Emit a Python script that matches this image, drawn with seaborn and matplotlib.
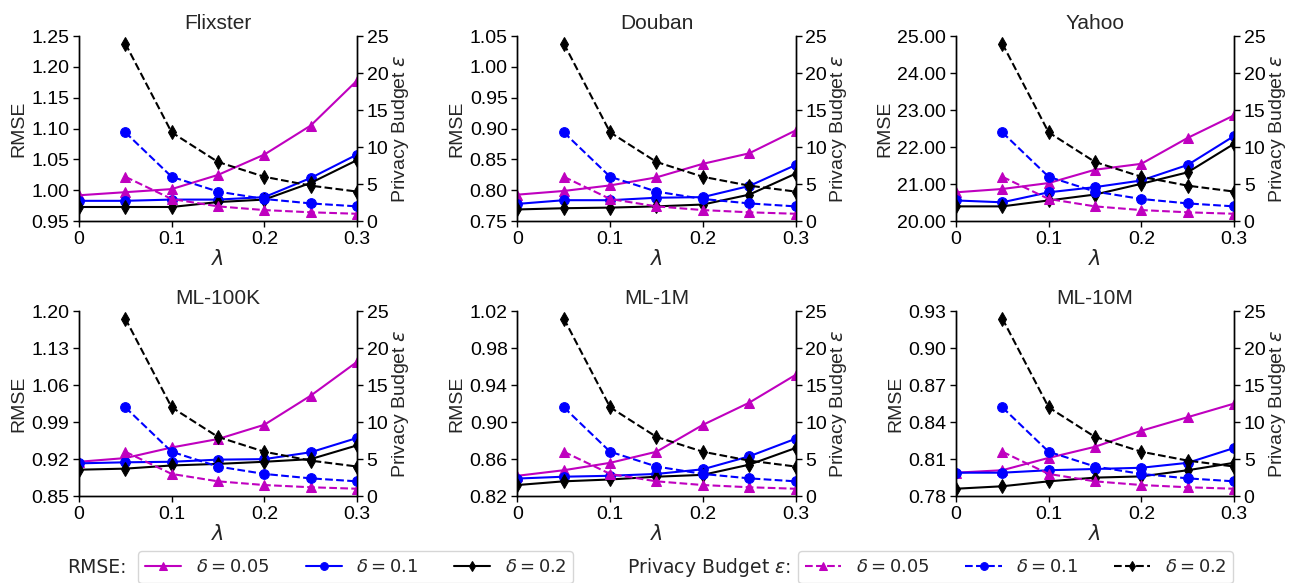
import matplotlib
matplotlib.use("Agg")
import matplotlib.pyplot as plt
import numpy as np
import seaborn as sns
from matplotlib.ticker import FormatStrFormatter

sns.set_theme(style="ticks")
plt.rcParams["font.family"] = ["Liberation Sans", "DejaVu Sans"]

# x values
lambdas = [0, 0.05, 0.1, 0.15, 0.2, 0.25, 0.3]
eps_lambdas = [0.05, 0.1, 0.15, 0.2, 0.25, 0.3]

# privacy budget epsilon (same for every dataset)
eps_d005 = [6, 3, 2, 1.5, 1.2, 1]
eps_d01 = [12, 6, 4, 3, 2.4, 2]
eps_d02 = [24, 12, 8, 6, 4.8, 4]

# RMSE per dataset, delta = 0.05 / 0.1 / 0.2
flixster_d005 = [0.992, 0.997, 1.002, 1.025, 1.058, 1.105, 1.178]
flixster_d01 = [0.983, 0.983, 0.985, 0.985, 0.989, 1.020, 1.058]
flixster_d02 = [0.973, 0.973, 0.973, 0.981, 0.985, 1.012, 1.049]

douban_d005 = [0.793, 0.799, 0.808, 0.821, 0.843, 0.860, 0.897]
douban_d01 = [0.778, 0.784, 0.784, 0.788, 0.789, 0.807, 0.841]
douban_d02 = [0.769, 0.771, 0.772, 0.774, 0.777, 0.793, 0.827]

yahoo_d005 = [20.78, 20.87, 21.03, 21.39, 21.55, 22.25, 22.86]
yahoo_d01 = [20.56, 20.51, 20.78, 20.92, 21.10, 21.52, 22.30]
yahoo_d02 = [20.40, 20.40, 20.56, 20.72, 21.01, 21.32, 22.09]

ml100k_d005 = [0.915, 0.922, 0.942, 0.958, 0.985, 1.040, 1.104]
ml100k_d01 = [0.912, 0.914, 0.915, 0.919, 0.920, 0.933, 0.960]
ml100k_d02 = [0.900, 0.902, 0.908, 0.911, 0.915, 0.920, 0.946]

ml1m_d005 = [0.842, 0.848, 0.856, 0.868, 0.897, 0.921, 0.951]
ml1m_d01 = [0.839, 0.841, 0.842, 0.844, 0.849, 0.863, 0.882]
ml1m_d02 = [0.832, 0.836, 0.838, 0.841, 0.843, 0.854, 0.872]

ml10m_d005 = [0.799, 0.801, 0.811, 0.820, 0.833, 0.844, 0.855]
ml10m_d01 = [0.799, 0.799, 0.801, 0.802, 0.803, 0.807, 0.819]
ml10m_d02 = [0.786, 0.788, 0.792, 0.795, 0.796, 0.801, 0.807]

titles = ["Flixster", "Douban", "Yahoo", "ML-100K", "ML-1M", "ML-10M"]
rmse_sets = [
    (flixster_d005, flixster_d01, flixster_d02),
    (douban_d005, douban_d01, douban_d02),
    (yahoo_d005, yahoo_d01, yahoo_d02),
    (ml100k_d005, ml100k_d01, ml100k_d02),
    (ml1m_d005, ml1m_d01, ml1m_d02),
    (ml10m_d005, ml10m_d01, ml10m_d02),
]
y_ranges = [(0.95, 1.25, 0.05), (0.75, 1.05, 0.05), (20.0, 25.0, 1.0),
            (0.85, 1.20, 0.07), (0.82, 1.02, 0.04), (0.78, 0.93, 0.03)]

delta_labels = [r"$\delta = 0.05$", r"$\delta = 0.1$", r"$\delta = 0.2$"]
colors = ["#bf00bf", "#0000ff", "#000000"]
markers = ["^", "o", "d"]
eps_sets = [eps_d005, eps_d01, eps_d02]

fig, axes = plt.subplots(2, 3, figsize=(12.9, 5.83), dpi=100)
fig.subplots_adjust(left=0.0612, right=0.9566, top=0.938, bottom=0.149,
                    wspace=0.577, hspace=0.486)

rmse_handles, eps_handles = [], []
for i, ax in enumerate(axes.flat):
    ax2 = ax.twinx()
    for j in range(3):
        sns.lineplot(x=lambdas, y=rmse_sets[i][j], ax=ax, color=colors[j],
                     marker=markers[j], markersize=7, markeredgecolor=colors[j],
                     linewidth=1.5, linestyle="-")
        sns.lineplot(x=eps_lambdas, y=eps_sets[j], ax=ax2, color=colors[j],
                     marker=markers[j], markersize=7, markeredgecolor=colors[j],
                     linewidth=1.5, linestyle="--")
        if i == 0:
            rmse_handles.append(ax.lines[-1])
            eps_handles.append(ax2.lines[-1])
    lo, hi, step = y_ranges[i]
    ax.set_ylim(lo, hi)
    ax.set_yticks(np.arange(lo, hi + step / 2, step))
    ax.yaxis.set_major_formatter(FormatStrFormatter("%.2f"))
    ax.set_xlim(0, 0.3)
    ax.set_xticks([0, 0.1, 0.2, 0.3])
    ax.set_xticklabels(["0", "0.1", "0.2", "0.3"])
    ax2.set_ylim(0, 25)
    ax2.set_yticks([0, 5, 10, 15, 20, 25])
    ax.set_title(titles[i], fontsize=15, pad=5)
    ax.set_xlabel(r"$\lambda$", fontsize=15, labelpad=1)
    ax.set_ylabel("RMSE", fontsize=14, labelpad=3)
    ax2.set_ylabel(r"Privacy Budget $\epsilon$", fontsize=14, labelpad=1)
    for a in (ax, ax2):
        a.tick_params(labelsize=14, length=4, width=1, pad=3, colors="black")
        a.spines["top"].set_visible(False)
        for s in ["left", "right", "bottom"]:
            a.spines[s].set_linewidth(1.0)
            a.spines[s].set_color("black")

leg_font = {"family": "DejaVu Sans", "size": 13}
fig.legend(rmse_handles, delta_labels, ncol=3, loc="center left",
           bbox_to_anchor=(0.107, 0.027), prop=leg_font, markerscale=0.8,
           frameon=True, borderaxespad=0)
fig.legend(eps_handles, delta_labels, ncol=3, loc="center left",
           bbox_to_anchor=(0.6186, 0.027), prop=leg_font, markerscale=0.8,
           frameon=True, borderaxespad=0)
fig.text(0.098, 0.027, "RMSE:", ha="right", va="center",
         family="DejaVu Sans", fontsize=13.5)
fig.text(0.613, 0.027, r"Privacy Budget $\epsilon$:", ha="right", va="center",
         family="DejaVu Sans", fontsize=13.5)

fig.savefig("out.png", dpi=100)
